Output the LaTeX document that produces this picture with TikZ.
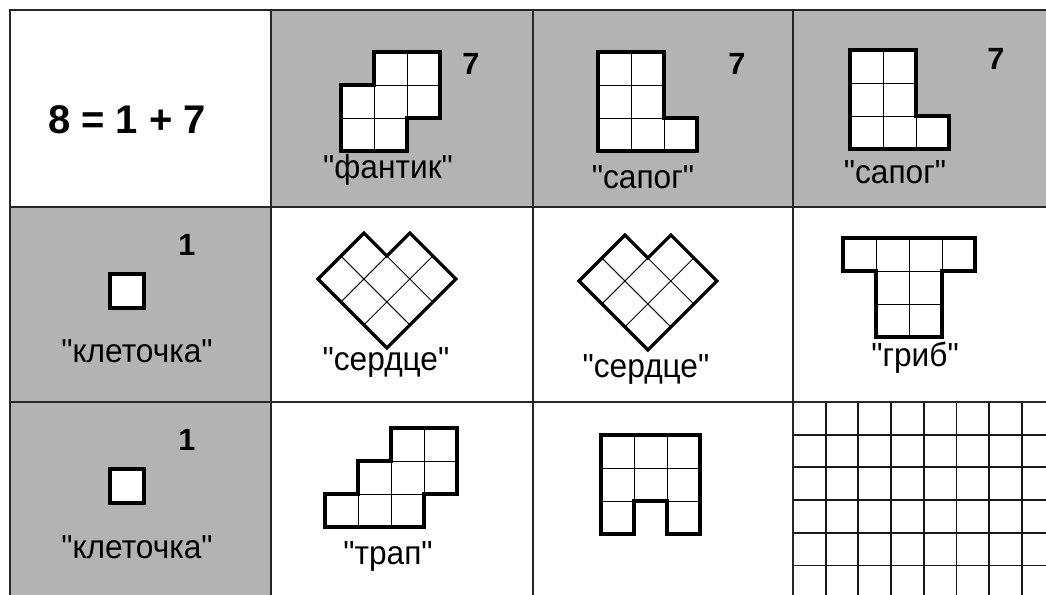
\documentclass[tikz,border=0pt]{standalone}
\usepackage{fontspec}
\setmainfont{Liberation Sans}[Ligatures=TeXOff]
\usepackage{xcolor}
\usepackage{tikz}

\definecolor{cellgray}{RGB}{179,179,179}

\begin{document}
\begin{tikzpicture}[x=0.75pt,y=-0.75pt,
  tableline/.style={draw=black!85,line width=1pt},
  cellbox/.style={fill=white,draw=black,line width=0.6pt},
  outline/.style={draw=black,line width=2.4pt,line join=miter},
  gridline/.style={draw=black!90,line width=1.4pt},
  lbl/.style={anchor=base,font=\fontsize{25}{30}\selectfont,xscale=0.95,transform shape},
  num/.style={font=\fontsize{23}{28}\selectfont\bfseries}]
\useasboundingbox (0,0) rectangle (1046,595);
\fill[white] (0,0) rectangle (1046,595);
\fill[cellgray] (271,10) rectangle (1046,207);
\fill[cellgray] (10,207) rectangle (271,595);

% squared paper in the last cell
\foreach \i in {0,...,7}
  \draw[gridline] ({793+32.7*\i},402) -- ({793+32.7*\i},595);
\foreach \j in {0,...,5}
  \draw[gridline] (793,{402+32.7*\j}) -- (1046,{402+32.7*\j});

% table
\draw[tableline] (10,595) -- (10,10) -- (1046,10);
\foreach \x in {271,533,793}
  \draw[tableline] (\x,10) -- (\x,595);
\foreach \y in {207,402}
  \draw[tableline] (10,\y) -- (1046,\y);

\node[font=\fontsize{30}{36}\selectfont\bfseries] (sum) at (127,120) {8 = 1 + 7};

% fantik
\begin{scope}[shift={(341,52)},scale=33]
  \foreach \c/\r in {1/0,2/0,0/1,1/1,2/1,0/2,1/2}
    \draw[cellbox] (\c,\r) rectangle ++(1,1);
  \draw[outline] (1,0) -- (3,0) -- (3,2) -- (2,2) -- (2,3) -- (0,3) -- (0,1) -- (1,1) -- cycle;
\end{scope}
\node[num] (seven1) at (471,64) {7};
\node[lbl] (fantik) at (388,179) {"фантик"};

% sapog
\begin{scope}[shift={(598,52)},scale=33]
  \foreach \c/\r in {0/0,1/0,0/1,1/1,0/2,1/2,2/2}
    \draw[cellbox] (\c,\r) rectangle ++(1,1);
  \draw[outline] (0,0) -- (2,0) -- (2,2) -- (3,2) -- (3,3) -- (0,3) -- cycle;
\end{scope}
\node[num] (seven2) at (737,64) {7};
\node[lbl] (sapog1) at (643,189) {"сапог"};

\begin{scope}[shift={(850,50)},scale=33]
  \foreach \c/\r in {0/0,1/0,0/1,1/1,0/2,1/2,2/2}
    \draw[cellbox] (\c,\r) rectangle ++(1,1);
  \draw[outline] (0,0) -- (2,0) -- (2,2) -- (3,2) -- (3,3) -- (0,3) -- cycle;
\end{scope}
\node[num] (seven3) at (996,59) {7};
\node[lbl] (sapog2) at (895,184) {"сапог"};

% kletochka
\filldraw[fill=white,outline] (110,274) rectangle ++(34,34);
\node[num] (one1) at (187,245) {1};
\node[lbl] (klet1) at (137,363) {"клеточка"};

\filldraw[fill=white,outline] (110,469) rectangle ++(34,34);
\node[num] (one2) at (187,440) {1};
\node[lbl] (klet2) at (137,558) {"клеточка"};

% serdce
\begin{scope}[shift={(318,279)},rotate=45,scale=32.5]
  \foreach \u/\v in {0/0,1/0,0/1,1/1,2/1,0/2,1/2,2/2}
    \draw[cellbox] (\u,\v) -- ++(1,0) -- ++(0,1) -- ++(-1,0) -- cycle;
  \draw[outline] (0,0) -- (2,0) -- (2,1) -- (3,1) -- (3,3) -- (0,3) -- cycle;
\end{scope}
\node[lbl] (serdce1) at (386,370) {"сердце"};

\begin{scope}[shift={(579,281)},rotate=45,scale=32.5]
  \foreach \u/\v in {0/0,1/0,0/1,1/1,2/1,0/2,1/2,2/2}
    \draw[cellbox] (\u,\v) -- ++(1,0) -- ++(0,1) -- ++(-1,0) -- cycle;
  \draw[outline] (0,0) -- (2,0) -- (2,1) -- (3,1) -- (3,3) -- (0,3) -- cycle;
\end{scope}
\node[lbl] (serdce2) at (646,377) {"сердце"};

% grib
\begin{scope}[shift={(843,238)},scale=33]
  \foreach \c/\r in {0/0,1/0,2/0,3/0,1/1,2/1,1/2,2/2}
    \draw[cellbox] (\c,\r) rectangle ++(1,1);
  \draw[outline] (0,0) -- (4,0) -- (4,1) -- (3,1) -- (3,3) -- (1,3) -- (1,1) -- (0,1) -- cycle;
\end{scope}
\node[lbl] (grib) at (915,366) {"гриб"};

% trap
\begin{scope}[shift={(325,428)},scale=33]
  \foreach \c/\r in {2/0,3/0,1/1,2/1,3/1,0/2,1/2,2/2}
    \draw[cellbox] (\c,\r) rectangle ++(1,1);
  \draw[outline] (2,0) -- (4,0) -- (4,2) -- (3,2) -- (3,3) -- (0,3) -- (0,2) -- (1,2) -- (1,1) -- (2,1) -- cycle;
\end{scope}
\node[lbl] (trap) at (388,564) {"трап"};

% arch
\begin{scope}[shift={(601,435)},scale=33]
  \foreach \c/\r in {0/0,1/0,2/0,0/1,1/1,2/1,0/2,2/2}
    \draw[cellbox] (\c,\r) rectangle ++(1,1);
  \draw[outline] (0,0) -- (3,0) -- (3,3) -- (2,3) -- (2,2) -- (1,2) -- (1,3) -- (0,3) -- cycle;
\end{scope}
\end{tikzpicture}
\end{document}
